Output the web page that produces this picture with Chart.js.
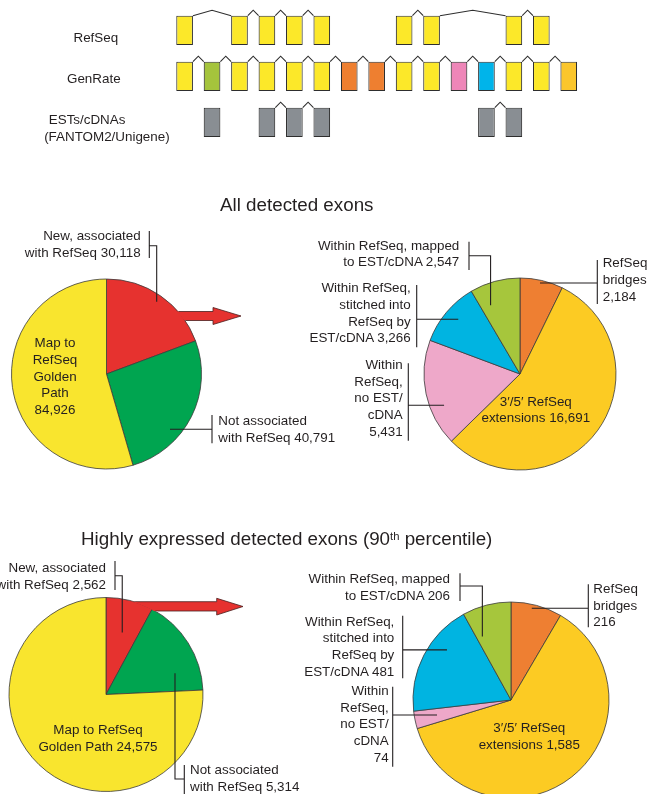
<!DOCTYPE html>
<html><head><meta charset="utf-8">
<script src="https://cdn.jsdelivr.net/npm/chart.js@4"></script>
<style>
html,body{margin:0;padding:0;background:#fff;}
#wrap{position:relative;width:648px;height:794px;overflow:hidden;background:#fff;font-family:"Liberation Sans",Arial,Helvetica,sans-serif;color:#231f20;}
#wrap canvas{position:absolute;left:0;top:0;}
.t{position:absolute;white-space:pre;}
.sup{position:relative;top:-0.5em;font-size:0.6em;}
</style></head><body><div id="wrap"></div>
<script>
// ---------------- DATA ----------------
// Gene structure (exon slots along the locus)
const geneSlots = ['x1','x2','x3','x4','x5','x6','x7','x8','x9','x10','x11','x12','x13','x14','x15'];
const trackNames = ['RefSeq', 'GenRate', 'ESTs/cDNAs', '(FANTOM2/Unigene)'];
const refseqExons = [0, 2, 3, 4, 5, 8, 9, 12, 13];
const refseqIntrons = [[0,2],[2,3],[3,4],[4,5],[8,9],[9,12],[12,13]];
const genrateExonClasses = ['golden','mapped','golden','golden','golden','golden','bridge','bridge','golden','golden','noEst','stitched','golden','golden','extension'];
const genrateIntrons = [[0,1],[1,2],[2,3],[3,4],[4,5],[5,6],[6,7],[7,8],[8,9],[9,10],[10,11],[11,12],[12,13],[13,14]];
const estExons = [1, 3, 4, 5, 11, 12];
const estIntrons = [[3,4],[4,5],[11,12]];

// Pie categories and values
const novelCategories = ['New, associated with RefSeq', 'Not associated with RefSeq', 'Map to RefSeq Golden Path'];
const allNovelValues = [30118, 40791, 84926];
const highNovelValues = [2562, 5314, 24575];
const associatedCategories = ['RefSeq bridges', '3′/5′ RefSeq extensions', 'Within RefSeq, no EST/cDNA', 'Within RefSeq, stitched into RefSeq by EST/cDNA', 'Within RefSeq, mapped to EST/cDNA'];
const allAssociatedValues = [2184, 16691, 5431, 3266, 2547];
const highAssociatedValues = [216, 1585, 74, 481, 206];

const titles = ['All detected exons', 'Highly expressed detected exons (90', 'th', ' percentile)'];

// ---------------- STYLE / LAYOUT ----------------
const W = 648, H = 794;
const classColors = {golden:'#FCE829', mapped:'#A5C43C', bridge:'#EE7F30', noEst:'#EE86B8', stitched:'#00B4EA', extension:'#FBC62C', est:'#898E93'};
const novelColors = ['#E6322F', '#00A550', '#F9E52E'];
const assocColors = ['#EE7F32', '#FCCB23', '#EEA8C9', '#00B4E1', '#A6C63C'];
const ink = '#231f20';
const wrap = document.getElementById('wrap');
const fmt = v => v.toLocaleString('en-US');

function addText(lines, x, baseline, align, size, lh, html) {
  const d = document.createElement('div');
  d.className = 't';
  d.style.fontSize = size + 'px';
  d.style.lineHeight = lh + 'px';
  d.style.top = (baseline - ((lh - 1.117 * size) / 2 + 0.905 * size)) + 'px';
  if (html) d.innerHTML = html; else d.textContent = lines.join('\n');
  if (align === 'left') d.style.left = x + 'px';
  else if (align === 'right') { d.style.right = (W - x) + 'px'; d.style.textAlign = 'right'; }
  else { d.style.left = (x - 200) + 'px'; d.style.width = '400px'; d.style.textAlign = 'center'; }
  wrap.appendChild(d);
  return d;
}
function newCanvas(w, h) {
  const c = document.createElement('canvas');
  c.width = w; c.height = h;
  c.style.width = w + 'px'; c.style.height = h + 'px';
  wrap.appendChild(c);
  return c;
}

// ---------------- GENE DIAGRAM (floating bar chart) ----------------
const rowTop = 15.7, rowPitch = 46, boxH = 29.3;
const slotPitch = 27.44, firstSlotCenter = 184.6;
function trackData(row, exons) {
  return geneSlots.map((s, i) => exons.includes(i) ? [rowTop + row * rowPitch, rowTop + row * rowPitch + boxH] : null);
}
const allSlots = geneSlots.map((s, i) => i);
const geneDatasets = [
  {data: trackData(0, refseqExons), backgroundColor: classColors.golden, introns: refseqIntrons},
  {data: trackData(1, allSlots), backgroundColor: genrateExonClasses.map(c => classColors[c]), introns: genrateIntrons},
  {data: trackData(2, estExons), backgroundColor: classColors.est, introns: estIntrons}
];
const intronPlugin = {
  id: 'introns',
  afterDatasetsDraw(chart) {
    const ctx = chart.ctx;
    ctx.save();
    ctx.strokeStyle = '#2e2e2e';
    ctx.lineWidth = 1.1;
    chart.data.datasets.forEach((ds, di) => {
      const meta = chart.getDatasetMeta(di);
      ds.introns.forEach(([a, b]) => {
        const ea = meta.data[a].getProps(['x','y','base','width'], true);
        const eb = meta.data[b].getProps(['x','y','base','width'], true);
        const top = Math.min(ea.y, ea.base);
        const x1 = ea.x + ea.width / 2, x2 = eb.x - eb.width / 2;
        ctx.beginPath();
        ctx.moveTo(x1, top);
        ctx.lineTo((x1 + x2) / 2, top - 5.5);
        ctx.lineTo(x2, top);
        ctx.stroke();
      });
    });
    ctx.restore();
  }
};
const geneCanvas = newCanvas(W, 180);
const geneLeft = firstSlotCenter - slotPitch / 2, geneWidth = slotPitch * geneSlots.length;
new Chart(geneCanvas, {
  type: 'bar',
  data: {labels: geneSlots, datasets: geneDatasets.map(d => ({
    data: d.data, backgroundColor: d.backgroundColor, introns: d.introns,
    borderColor: '#2e2e2e', borderWidth: 1.1, borderSkipped: false,
    barPercentage: 0.608, categoryPercentage: 1, grouped: false
  }))},
  options: {
    responsive: false, animation: false, devicePixelRatio: 1, events: [],
    layout: {padding: {left: geneLeft, right: W - geneLeft - geneWidth, top: 0, bottom: 0}},
    scales: {
      x: {display: false, offset: true},
      y: {display: false, min: 0, max: 180, reverse: true}
    },
    plugins: {legend: {display: false}, tooltip: {enabled: false}}
  },
  plugins: [intronPlugin]
});
addText([trackNames[0]], 95.8, 42.7, 'center', 13.4, 16);
addText([trackNames[1]], 93.8, 83.3, 'center', 13.4, 16);
addText([trackNames[2]], 87.1, 124.3, 'center', 13.4, 16);
addText([trackNames[3]], 106.9, 141.7, 'center', 13.4, 16);

// ---------------- PIES ----------------
function calloutPlugin(callouts, arrow) {
  return {
    id: 'callouts',
    afterDatasetsDraw(chart) {
      const ctx = chart.ctx;
      const meta = chart.getDatasetMeta(0);
      const a0 = meta.data[0].getProps(['x','y','outerRadius'], true);
      const cx = a0.x, cy = a0.y, r = a0.outerRadius;
      if (arrow) {
        const pts = [[cx, arrow.shaft[0]], [arrow.headBase, arrow.shaft[0]], [arrow.headBase, arrow.head[0]], [arrow.tip[0], arrow.tip[1]], [arrow.headBase, arrow.head[1]], [arrow.headBase, arrow.shaft[1]], [cx, arrow.shaft[1]]];
        ctx.save();
        ctx.beginPath(); ctx.rect(0, 0, W, H); ctx.arc(cx, cy, r - 0.7, 0, Math.PI * 2); ctx.clip('evenodd');
        ctx.beginPath(); pts.forEach((p, i) => i ? ctx.lineTo(p[0], p[1]) : ctx.moveTo(p[0], p[1])); ctx.closePath();
        ctx.fillStyle = novelColors[0]; ctx.fill();
        ctx.restore();
        ctx.save();
        ctx.beginPath(); ctx.rect(0, 0, W, H); ctx.arc(cx, cy, r + 0.4, 0, Math.PI * 2); ctx.clip('evenodd');
        ctx.beginPath(); pts.forEach((p, i) => i ? ctx.lineTo(p[0], p[1]) : ctx.moveTo(p[0], p[1]));
        ctx.strokeStyle = '#4a2020'; ctx.lineWidth = 0.8; ctx.stroke();
        ctx.restore();
      }
      ctx.save();
      ctx.strokeStyle = ink; ctx.lineWidth = 1.1;
      callouts.forEach(co => {
        const arc = meta.data[co.slice].getProps(['x','y','startAngle','endAngle','outerRadius'], true);
        const ang = arc.startAngle + co.t * (arc.endAngle - arc.startAngle);
        const px = arc.x + Math.cos(ang) * arc.outerRadius * co.f;
        const py = arc.y + Math.sin(ang) * arc.outerRadius * co.f;
        ctx.beginPath();
        ctx.moveTo(co.bx, co.by[0]); ctx.lineTo(co.bx, co.by[1]);
        if (co.elbow == null) { ctx.moveTo(co.bx, py); ctx.lineTo(px, py); }
        else { ctx.moveTo(co.bx, co.elbow); ctx.lineTo(px, co.elbow); ctx.lineTo(px, py); }
        ctx.stroke();
      });
      ctx.restore();
    }
  };
}
function makePie(labels, values, colors, center, radius, callouts, arrow) {
  const c = newCanvas(W, H);
  const halfW = Math.min(center[0], W - center[0]), halfH = Math.min(center[1], H - center[1]);
  new Chart(c, {
    type: 'pie',
    data: {labels, datasets: [{data: values, backgroundColor: colors, borderColor: '#3b3b3b', borderWidth: 0.8, radius, hoverOffset: 0, clip: false}]},
    options: {
      responsive: false, animation: false, devicePixelRatio: 1, events: [],
      layout: {padding: {left: center[0] - halfW, right: W - center[0] - halfW, top: center[1] - halfH, bottom: H - center[1] - halfH}},
      plugins: {legend: {display: false}, tooltip: {enabled: false}}
    },
    plugins: [calloutPlugin(callouts, arrow)]
  });
}

// All detected exons
makePie(novelCategories, allNovelValues, novelColors, [106.5, 374], 95,
  [{slice: 0, t: 0.5, f: 0.926, bx: 149.3, by: [231, 258], elbow: 245.7},
   {slice: 1, t: 0.652, f: 0.886, bx: 212, by: [415, 443.3], elbow: null}],
  {shaft: [311.5, 320.5], head: [307.5, 324.5], headBase: 213, tip: [241, 316]});
makePie(associatedCategories, allAssociatedValues, assocColors, [520, 374], 96,
  [{slice: 4, t: 0.24, f: 0.78, bx: 469, by: [241.7, 270], elbow: 255.7},
   {slice: 3, t: 0.54, f: 0.86, bx: 416.7, by: [285, 347.3], elbow: null},
   {slice: 2, t: 0.34, f: 0.855, bx: 408.3, by: [363.3, 440.7], elbow: null},
   {slice: 0, t: 0.475, f: 0.97, bx: 597.3, by: [260, 304], elbow: null}], null);

// Highly expressed
makePie(novelCategories, highNovelValues, novelColors, [106, 694.5], 97,
  [{slice: 0, t: 0.517, f: 0.66, bx: 115, by: [561, 590], elbow: 575.7},
   {slice: 1, t: 0.755, f: 0.744, bx: 184.3, by: [765, 800], elbow: 779}],
  {shaft: [601.7, 611], head: [598.3, 615], headBase: 216.7, tip: [243, 606.5]});
makePie(associatedCategories, highAssociatedValues, assocColors, [511, 700], 98,
  [{slice: 4, t: 0.16, f: 0.71, bx: 460, by: [573.3, 601], elbow: 586},
   {slice: 3, t: 0.66, f: 0.83, bx: 402.7, by: [615.7, 678.3], elbow: null},
   {slice: 2, t: 0.53, f: 0.77, bx: 392.7, by: [686.7, 766.7], elbow: null},
   {slice: 0, t: 0.42, f: 0.96, bx: 588.3, by: [584.3, 627.3], elbow: null}], null);

// ---------------- TEXT ----------------
const FS = 13.4, LH = 16.7;
addText([titles[0]], 220, 211.7, 'left', 18.8, 22);
addText(null, 81, 546, 'left', 18.8, 22, titles[1] + '<span class="sup">' + titles[2] + '</span>' + titles[3]);

// pie 1
addText(['New, associated', 'with RefSeq ' + fmt(allNovelValues[0])], 140.7, 241, 'right', FS, LH);
addText(['Not associated', 'with RefSeq ' + fmt(allNovelValues[1])], 218.3, 426, 'left', FS, LH);
addText(['Map to', 'RefSeq', 'Golden', 'Path', fmt(allNovelValues[2])], 55, 348.3, 'center', FS, LH);
// pie 2
addText(['Within RefSeq, mapped', 'to EST/cDNA ' + fmt(allAssociatedValues[4])], 459.3, 250.7, 'right', FS, LH);
addText(['Within RefSeq,', 'stitched into', 'RefSeq by', 'EST/cDNA ' + fmt(allAssociatedValues[3])], 410.7, 293.3, 'right', FS, LH);
addText(['Within', 'RefSeq,', 'no EST/', 'cDNA', fmt(allAssociatedValues[2])], 402.7, 370, 'right', FS, LH);
addText(['RefSeq', 'bridges', fmt(allAssociatedValues[0])], 602.7, 268.3, 'left', FS, LH);
addText(['3′/5′ RefSeq', 'extensions ' + fmt(allAssociatedValues[1])], 535.8, 406.7, 'center', FS, LH);
// pie 3
addText(['New, associated', 'with RefSeq ' + fmt(highNovelValues[0])], 106, 573.3, 'right', FS, LH);
addText(['Not associated', 'with RefSeq ' + fmt(highNovelValues[1])], 190, 775, 'left', FS, LH);
addText(['Map to RefSeq', 'Golden Path ' + fmt(highNovelValues[2])], 98, 735, 'center', FS, LH);
// pie 4
addText(['Within RefSeq, mapped', 'to EST/cDNA ' + fmt(highAssociatedValues[4])], 450, 584.3, 'right', FS, LH);
addText(['Within RefSeq,', 'stitched into', 'RefSeq by', 'EST/cDNA ' + fmt(highAssociatedValues[3])], 394.3, 626.7, 'right', FS, LH);
addText(['Within', 'RefSeq,', 'no EST/', 'cDNA', fmt(highAssociatedValues[2])], 388.7, 696, 'right', FS, LH);
addText(['RefSeq', 'bridges', fmt(highAssociatedValues[0])], 593.3, 594, 'left', FS, LH);
addText(['3′/5′ RefSeq', 'extensions ' + fmt(highAssociatedValues[1])], 529.3, 733.3, 'center', FS, LH);
</script></body></html>
